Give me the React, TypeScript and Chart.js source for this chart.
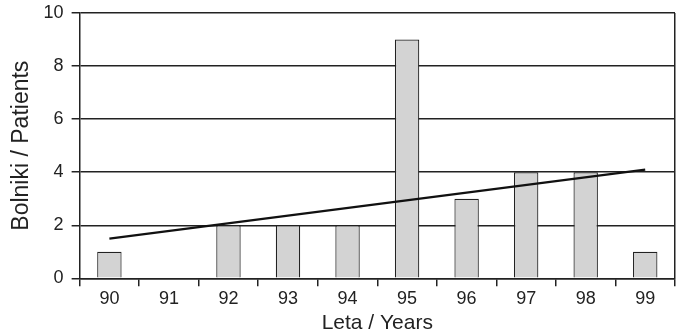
import React, { useEffect, useRef } from "react";
import { Chart, registerables } from "chart.js";

Chart.register(...registerables);

const years = ["90", "91", "92", "93", "94", "95", "96", "97", "98", "99"];
const patients = [1, 0, 2, 2, 2, 9, 3, 4, 4, 1];
const trend = [1.5, null, null, null, null, null, null, null, null, 4.1];
const yTitle = "Bolniki / Patients";
const xTitle = "Leta / Years";

export default function App() {
  const ref = useRef<HTMLCanvasElement>(null);
  useEffect(() => {
    document.body.style.margin = "0";
    const font = "'Liberation Sans', Arial, sans-serif";
    const chart = new Chart(ref.current!, {
      type: "bar",
      data: {
        labels: years,
        datasets: [
          {
            type: "line",
            data: trend,
            borderColor: "#111",
            borderWidth: 2.2,
            pointRadius: 0,
            spanGaps: true,
            order: 0,
          } as any,
          {
            type: "bar",
            data: patients,
            backgroundColor: "#d3d3d3",
            borderColor: "#222",
            borderWidth: 1.2,
            barPercentage: 0.41,
            categoryPercentage: 1,
            order: 1,
          },
        ],
      },
      options: {
        responsive: false,
        animation: false,
        plugins: { legend: { display: false }, tooltip: { enabled: false } },
        layout: { padding: { left: 8, right: 5, top: 0, bottom: 0 } },
        scales: {
          x: {
            offset: true,
            grid: {
              offset: true,
              drawOnChartArea: true,
              color: (ctx: any) => (ctx.index === undefined ? "#222" : "rgba(0,0,0,0)"),
              tickColor: "#222",
              tickLength: 8,
              lineWidth: 1.5,
            },
            border: { display: true, color: "#222", width: 1.5 },
            ticks: { color: "#222", font: { family: font, size: 18 }, padding: 2 },
            title: {
              display: true,
              text: xTitle,
              color: "#222",
              font: { family: font, size: 21, lineHeight: 1.05 },
              padding: { top: 0, bottom: 0 },
            },
          },
          y: {
            min: 0,
            max: 10,
            ticks: { stepSize: 2, color: "#222", font: { family: font, size: 18, lineHeight: 0.55 }, padding: 8 },
            grid: { color: "#222", lineWidth: 1.5, tickLength: 8, tickColor: "#222" },
            border: { display: true, color: "#222", width: 1.5 },
            title: {
              display: true,
              text: yTitle,
              color: "#222",
              font: { family: font, size: 23 },
              padding: { top: 0, bottom: 0 },
            },
          },
        },
      },
    });
    return () => chart.destroy();
  }, []);
  return <canvas ref={ref} width={680} height={334} style={{ display: "block" }} />;
}
